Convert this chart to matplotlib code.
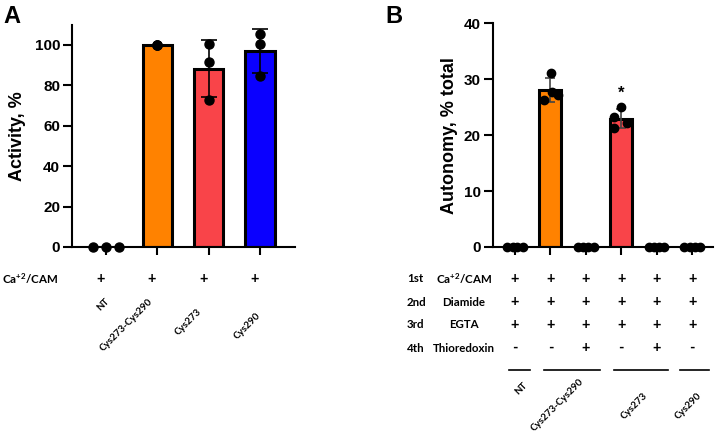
import numpy as np
import matplotlib
matplotlib.use("Agg")
import matplotlib.pyplot as plt
from matplotlib.transforms import blended_transform_factory
from matplotlib.lines import Line2D

W, H = 719, 433

# ---- panel A data ----
a_groups = ['NT', 'Cys273-Cys290', 'Cys273', 'Cys290']
a_values = [
    [0.0, 0.0, 0.0],
    [100.0, 100.0, 100.0],
    [100.5, 91.6, 72.8],
    [105.6, 100.6, 84.6],
]
a_colors = ['white', '#FF8200', '#F94449', '#0A00FF']
a_ticks = [0, 20, 40, 60, 80, 100]
a_cond = 'Ca$^{\\mathbf{+2}}$/CAM'

# ---- panel B data ----
b_values = [
    [0.0, 0.0, 0.0, 0.0],
    [31.2, 27.8, 27.2, 26.3],
    [0.0, 0.0, 0.0, 0.0],
    [25.1, 23.2, 22.2, 21.2],
    [0.0, 0.0, 0.0, 0.0],
    [0.0, 0.0, 0.0, 0.0],
]
b_colors = ['white', '#FF8200', 'white', '#F94449', 'white', 'white']
b_ticks = [0, 10, 20, 30, 40]
b_steps = ['1st', '2nd', '3rd', '4th']
b_reagents = ['Ca$^{\\mathbf{+2}}$/CAM', 'Diamide', 'EGTA', 'Thioredoxin']
b_signs = [
    ['+', '+', '+', '+', '+', '+'],
    ['+', '+', '+', '+', '+', '+'],
    ['+', '+', '+', '+', '+', '+'],
    ['-', '-', '+', '-', '+', '-'],
]
b_groups = ['NT', 'Cys273-Cys290', 'Cys273', 'Cys290']
b_star_bar = 3

# layout only (jitter of dots, label anchors in figure pixels)
a_jitter = [[-0.25, 0, 0.25], [0, 0, 0], [0, 0, 0], [0, 0, 0]]
zj = [-0.22, -0.07, 0.07, 0.22]
b_jitter = [zj, [0.03, 0.05, 0.2, -0.17], zj, [0.0, -0.2, 0.17, -0.2], zj, zj]
a_label_px = [(108, 300), (151, 300), (200, 310), (259, 314)]
b_label_px = [(526, 384), (582, 380), (646, 394), (700, 394)]
b_line_span = [(-0.17, 0.42), (0.82, 2.4), (2.8, 4.32), (4.66, 5.48)]

plt.rcParams['font.family'] = ['Liberation Sans', 'DejaVu Sans']
plt.rcParams['mathtext.fontset'] = 'custom'
plt.rcParams['mathtext.rm'] = 'Lato'
plt.rcParams['mathtext.bf'] = 'Lato:bold'
plt.rcParams['mathtext.it'] = 'Lato:italic'

TBL = dict(family='Lato', fontweight='bold', fontsize=8.3)
SGN = dict(family='Lato', fontweight='bold', fontsize=10.5)
ROT = dict(family='Lato', fontweight='bold', fontsize=7.1)


def fx(x):
    return x / W


def fy(y):
    return 1 - y / H


def style_axis(ax, ticks):
    for s in ['top', 'right']:
        ax.spines[s].set_visible(False)
    for s in ['left', 'bottom']:
        ax.spines[s].set_linewidth(1.5)
    ax.set_yticks(ticks)
    ax.tick_params(axis='y', length=6.5, width=1.5, pad=2, labelsize=11)
    ax.tick_params(axis='x', length=5.5, width=1.5, labelbottom=False)
    for lab in ax.get_yticklabels():
        lab.set_fontweight('bold')


def draw_bars(ax, values, colors, jitter, width, capsize, ecolor, msize):
    x = np.arange(len(values))
    means = [np.mean(v) for v in values]
    sds = [np.std(v, ddof=1) for v in values]
    ax.bar(x, means, width=width, color=colors, edgecolor='black',
           linewidth=2.2, zorder=2)
    for i in range(len(values)):
        if sds[i] > 0:
            ax.errorbar(x[i], means[i], yerr=sds[i], fmt='none', ecolor=ecolor,
                        elinewidth=1.2, capsize=capsize, capthick=1.2, zorder=3)
        ax.plot(x[i] + np.array(jitter[i]), values[i], 'o', color='black',
                markersize=msize, zorder=4, clip_on=False)
    ax.set_xticks(x)


fig = plt.figure(figsize=(W / 100, H / 100), dpi=100)

# ---------------- panel A ----------------
ax_a = fig.add_axes([fx(72), fy(247), (295 - 72) / W, (247 - 24.8) / H])
draw_bars(ax_a, a_values, a_colors, a_jitter, 0.57, 6, 'black', 6.5)
ax_a.set_xlim(-0.663, 3.68)
ax_a.set_ylim(0, 110)
style_axis(ax_a, a_ticks)
ax_a.set_ylabel('Activity, %', fontsize=13, fontweight='bold', labelpad=6)
fig.text(fx(3), fy(5), 'A', fontsize=17, fontweight='bold', va='top', ha='left')

tr_a = blended_transform_factory(ax_a.transData, fig.transFigure)
fig.text(fx(2), fy(279), a_cond, ha='left', va='center', **TBL)
for i in range(len(a_groups)):
    ax_a.text(i - 0.107, fy(279), '+', transform=tr_a, ha='center', va='center', **SGN)
for name, (px, py) in zip(a_groups, a_label_px):
    fig.text(fx(px), fy(py), name, rotation=45, rotation_mode='anchor',
             ha='right', va='center', **ROT)

# ---------------- panel B ----------------
ax_b = fig.add_axes([fx(492.7), fy(247), (713 - 492.7) / W, (247 - 23.3) / H])
draw_bars(ax_b, b_values, b_colors, b_jitter, 0.62, 3.5, '#444444', 6)
ax_b.set_xlim(-0.63, 5.59)
ax_b.set_ylim(0, 40)
style_axis(ax_b, b_ticks)
ax_b.set_ylabel('Autonomy, % total', fontsize=13, fontweight='bold', labelpad=4)
fig.text(fx(385), fy(5), 'B', fontsize=17, fontweight='bold', va='top', ha='left')
ax_b.text(b_star_bar, 27.4, '*', ha='center', va='center', fontsize=12, fontweight='bold')

tr_b = blended_transform_factory(ax_b.transData, fig.transFigure)
row_y = [279, 302, 325, 348]
for r in range(len(b_steps)):
    fig.text(fx(407), fy(row_y[r]), b_steps[r], ha='left', va='center', **TBL)
    fig.text(fx(464), fy(row_y[r]), b_reagents[r], ha='center', va='center', **TBL)
    for i, s in enumerate(b_signs[r]):
        ax_b.text(i, fy(row_y[r]), s, transform=tr_b, ha='center', va='center', **SGN)
for (x0, x1) in b_line_span:
    fig.add_artist(Line2D([x0, x1], [fy(370), fy(370)], transform=tr_b,
                          color='black', linewidth=1.2, clip_on=False))
for name, (px, py) in zip(b_groups, b_label_px):
    fig.text(fx(px), fy(py), name, rotation=45, rotation_mode='anchor',
             ha='right', va='center', **ROT)

fig.savefig('out.png', dpi=100)
